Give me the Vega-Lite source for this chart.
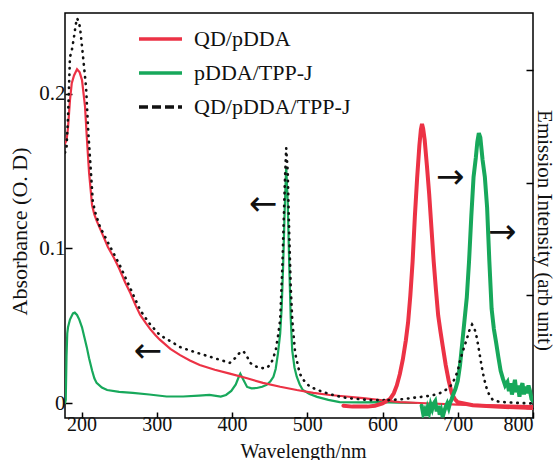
{
  "$schema": "https://vega.github.io/schema/vega-lite/v6.json",
  "width": 468,
  "height": 405,
  "autosize": {"type": "none"},
  "padding": {"left": 65, "top": 13, "right": 22, "bottom": 42},
  "background": "white",
  "config": {
    "view": {"stroke": "black", "strokeWidth": 1.5},
    "font": "Liberation Serif",
    "axis": {
      "labelFont": "Liberation Serif",
      "titleFont": "Liberation Serif",
      "labelFontSize": 21,
      "titleFontSize": 22,
      "titleFontWeight": "normal",
      "labelColor": "#111",
      "titleColor": "#111",
      "tickColor": "black",
      "tickWidth": 1.5,
      "domain": false,
      "grid": false
    },
    "legend": {
      "orient": "none",
      "legendX": 72,
      "legendY": 14,
      "symbolType": "stroke",
      "symbolSize": 1849,
      "symbolStrokeWidth": 3.5,
      "labelFont": "Liberation Serif",
      "labelFontSize": 22,
      "labelColor": "#111",
      "labelOffset": 10,
      "clipHeight": 24,
      "rowPadding": 10,
      "padding": 0
    }
  },
  "datasets": {
    "absorbance": [
      {"sample": "pDDA/TPP-J", "wavelength": 178, "od": 0.0},
      {"sample": "pDDA/TPP-J", "wavelength": 179, "od": 0.002},
      {"sample": "pDDA/TPP-J", "wavelength": 180, "od": 0.03},
      {"sample": "pDDA/TPP-J", "wavelength": 181, "od": 0.045},
      {"sample": "pDDA/TPP-J", "wavelength": 182, "od": 0.049},
      {"sample": "pDDA/TPP-J", "wavelength": 184.6, "od": 0.054},
      {"sample": "pDDA/TPP-J", "wavelength": 188.6, "od": 0.058},
      {"sample": "pDDA/TPP-J", "wavelength": 191, "od": 0.0585},
      {"sample": "pDDA/TPP-J", "wavelength": 194, "od": 0.057},
      {"sample": "pDDA/TPP-J", "wavelength": 197, "od": 0.054},
      {"sample": "pDDA/TPP-J", "wavelength": 200.6, "od": 0.049},
      {"sample": "pDDA/TPP-J", "wavelength": 204, "od": 0.042},
      {"sample": "pDDA/TPP-J", "wavelength": 207, "od": 0.036},
      {"sample": "pDDA/TPP-J", "wavelength": 210, "od": 0.029},
      {"sample": "pDDA/TPP-J", "wavelength": 214, "od": 0.021},
      {"sample": "pDDA/TPP-J", "wavelength": 217, "od": 0.016},
      {"sample": "pDDA/TPP-J", "wavelength": 220, "od": 0.013},
      {"sample": "pDDA/TPP-J", "wavelength": 227, "od": 0.010},
      {"sample": "pDDA/TPP-J", "wavelength": 234, "od": 0.0084},
      {"sample": "pDDA/TPP-J", "wavelength": 250, "od": 0.0072},
      {"sample": "pDDA/TPP-J", "wavelength": 268, "od": 0.0065},
      {"sample": "pDDA/TPP-J", "wavelength": 290, "od": 0.0055},
      {"sample": "pDDA/TPP-J", "wavelength": 313, "od": 0.0042},
      {"sample": "pDDA/TPP-J", "wavelength": 335, "od": 0.0042},
      {"sample": "pDDA/TPP-J", "wavelength": 356, "od": 0.0048},
      {"sample": "pDDA/TPP-J", "wavelength": 370, "od": 0.0052},
      {"sample": "pDDA/TPP-J", "wavelength": 385, "od": 0.0042},
      {"sample": "pDDA/TPP-J", "wavelength": 392, "od": 0.0052},
      {"sample": "pDDA/TPP-J", "wavelength": 399, "od": 0.0078},
      {"sample": "pDDA/TPP-J", "wavelength": 405, "od": 0.012},
      {"sample": "pDDA/TPP-J", "wavelength": 409, "od": 0.017},
      {"sample": "pDDA/TPP-J", "wavelength": 411, "od": 0.019},
      {"sample": "pDDA/TPP-J", "wavelength": 414, "od": 0.016},
      {"sample": "pDDA/TPP-J", "wavelength": 420, "od": 0.0104},
      {"sample": "pDDA/TPP-J", "wavelength": 426, "od": 0.0095},
      {"sample": "pDDA/TPP-J", "wavelength": 433, "od": 0.0097},
      {"sample": "pDDA/TPP-J", "wavelength": 440, "od": 0.0105},
      {"sample": "pDDA/TPP-J", "wavelength": 446, "od": 0.0117},
      {"sample": "pDDA/TPP-J", "wavelength": 451, "od": 0.014},
      {"sample": "pDDA/TPP-J", "wavelength": 455, "od": 0.017},
      {"sample": "pDDA/TPP-J", "wavelength": 458, "od": 0.022},
      {"sample": "pDDA/TPP-J", "wavelength": 461, "od": 0.032},
      {"sample": "pDDA/TPP-J", "wavelength": 464, "od": 0.045},
      {"sample": "pDDA/TPP-J", "wavelength": 466, "od": 0.062},
      {"sample": "pDDA/TPP-J", "wavelength": 468, "od": 0.09},
      {"sample": "pDDA/TPP-J", "wavelength": 470, "od": 0.125},
      {"sample": "pDDA/TPP-J", "wavelength": 472, "od": 0.153},
      {"sample": "pDDA/TPP-J", "wavelength": 474, "od": 0.13},
      {"sample": "pDDA/TPP-J", "wavelength": 476, "od": 0.09},
      {"sample": "pDDA/TPP-J", "wavelength": 478, "od": 0.055},
      {"sample": "pDDA/TPP-J", "wavelength": 480, "od": 0.034},
      {"sample": "pDDA/TPP-J", "wavelength": 483, "od": 0.023},
      {"sample": "pDDA/TPP-J", "wavelength": 486, "od": 0.017},
      {"sample": "pDDA/TPP-J", "wavelength": 490, "od": 0.012},
      {"sample": "pDDA/TPP-J", "wavelength": 494, "od": 0.0084},
      {"sample": "pDDA/TPP-J", "wavelength": 503, "od": 0.0058},
      {"sample": "pDDA/TPP-J", "wavelength": 513, "od": 0.004},
      {"sample": "pDDA/TPP-J", "wavelength": 528, "od": 0.002},
      {"sample": "pDDA/TPP-J", "wavelength": 543, "od": 0.0006},
      {"sample": "pDDA/TPP-J", "wavelength": 570, "od": 0.0004},
      {"sample": "pDDA/TPP-J", "wavelength": 597, "od": 0.0006},
      {"sample": "pDDA/TPP-J", "wavelength": 620, "od": 0.0002},
      {"sample": "pDDA/TPP-J", "wavelength": 645, "od": 0.0},
      {"sample": "QD/pDDA", "wavelength": 178, "od": 0.168},
      {"sample": "QD/pDDA", "wavelength": 180, "od": 0.17},
      {"sample": "QD/pDDA", "wavelength": 182, "od": 0.178},
      {"sample": "QD/pDDA", "wavelength": 184.6, "od": 0.196},
      {"sample": "QD/pDDA", "wavelength": 187, "od": 0.207},
      {"sample": "QD/pDDA", "wavelength": 190, "od": 0.212},
      {"sample": "QD/pDDA", "wavelength": 194, "od": 0.216},
      {"sample": "QD/pDDA", "wavelength": 197.5, "od": 0.214},
      {"sample": "QD/pDDA", "wavelength": 200.6, "od": 0.209},
      {"sample": "QD/pDDA", "wavelength": 204.6, "od": 0.192},
      {"sample": "QD/pDDA", "wavelength": 207, "od": 0.172},
      {"sample": "QD/pDDA", "wavelength": 210, "od": 0.149},
      {"sample": "QD/pDDA", "wavelength": 214, "od": 0.128},
      {"sample": "QD/pDDA", "wavelength": 217, "od": 0.122},
      {"sample": "QD/pDDA", "wavelength": 220, "od": 0.118},
      {"sample": "QD/pDDA", "wavelength": 228, "od": 0.109},
      {"sample": "QD/pDDA", "wavelength": 235, "od": 0.101},
      {"sample": "QD/pDDA", "wavelength": 243, "od": 0.094},
      {"sample": "QD/pDDA", "wavelength": 250, "od": 0.087},
      {"sample": "QD/pDDA", "wavelength": 258, "od": 0.078},
      {"sample": "QD/pDDA", "wavelength": 265, "od": 0.071},
      {"sample": "QD/pDDA", "wavelength": 272, "od": 0.063},
      {"sample": "QD/pDDA", "wavelength": 278, "od": 0.057},
      {"sample": "QD/pDDA", "wavelength": 285, "od": 0.052},
      {"sample": "QD/pDDA", "wavelength": 291, "od": 0.048},
      {"sample": "QD/pDDA", "wavelength": 298, "od": 0.044},
      {"sample": "QD/pDDA", "wavelength": 304, "od": 0.041},
      {"sample": "QD/pDDA", "wavelength": 318, "od": 0.035},
      {"sample": "QD/pDDA", "wavelength": 331, "od": 0.031},
      {"sample": "QD/pDDA", "wavelength": 344, "od": 0.0275},
      {"sample": "QD/pDDA", "wavelength": 357, "od": 0.0246},
      {"sample": "QD/pDDA", "wavelength": 377, "od": 0.0215},
      {"sample": "QD/pDDA", "wavelength": 397, "od": 0.019},
      {"sample": "QD/pDDA", "wavelength": 420, "od": 0.016},
      {"sample": "QD/pDDA", "wavelength": 441, "od": 0.013},
      {"sample": "QD/pDDA", "wavelength": 464, "od": 0.0105},
      {"sample": "QD/pDDA", "wavelength": 486, "od": 0.0084},
      {"sample": "QD/pDDA", "wavelength": 508, "od": 0.0066},
      {"sample": "QD/pDDA", "wavelength": 530, "od": 0.0052},
      {"sample": "QD/pDDA", "wavelength": 552, "od": 0.0042},
      {"sample": "QD/pDDA", "wavelength": 574, "od": 0.0032},
      {"sample": "QD/pDDA", "wavelength": 600, "od": 0.0018},
      {"sample": "QD/pDDA", "wavelength": 623, "od": 0.0006},
      {"sample": "QD/pDDA", "wavelength": 650, "od": 0.0},
      {"sample": "QD/pDDA", "wavelength": 700, "od": -0.001},
      {"sample": "QD/pDDA", "wavelength": 750, "od": -0.0015},
      {"sample": "QD/pDDA", "wavelength": 800, "od": -0.002},
      {"sample": "QD/pDDA/TPP-J", "wavelength": 178, "od": 0.162},
      {"sample": "QD/pDDA/TPP-J", "wavelength": 180, "od": 0.165},
      {"sample": "QD/pDDA/TPP-J", "wavelength": 182, "od": 0.185},
      {"sample": "QD/pDDA/TPP-J", "wavelength": 184.6, "od": 0.224},
      {"sample": "QD/pDDA/TPP-J", "wavelength": 187, "od": 0.228},
      {"sample": "QD/pDDA/TPP-J", "wavelength": 190, "od": 0.237},
      {"sample": "QD/pDDA/TPP-J", "wavelength": 192, "od": 0.244},
      {"sample": "QD/pDDA/TPP-J", "wavelength": 194, "od": 0.249},
      {"sample": "QD/pDDA/TPP-J", "wavelength": 196, "od": 0.247},
      {"sample": "QD/pDDA/TPP-J", "wavelength": 198, "od": 0.243},
      {"sample": "QD/pDDA/TPP-J", "wavelength": 202, "od": 0.224},
      {"sample": "QD/pDDA/TPP-J", "wavelength": 206, "od": 0.2045},
      {"sample": "QD/pDDA/TPP-J", "wavelength": 209, "od": 0.175},
      {"sample": "QD/pDDA/TPP-J", "wavelength": 212.5, "od": 0.149},
      {"sample": "QD/pDDA/TPP-J", "wavelength": 215, "od": 0.13},
      {"sample": "QD/pDDA/TPP-J", "wavelength": 219, "od": 0.122},
      {"sample": "QD/pDDA/TPP-J", "wavelength": 224.5, "od": 0.114},
      {"sample": "QD/pDDA/TPP-J", "wavelength": 235, "od": 0.104},
      {"sample": "QD/pDDA/TPP-J", "wavelength": 250, "od": 0.09},
      {"sample": "QD/pDDA/TPP-J", "wavelength": 265, "od": 0.074},
      {"sample": "QD/pDDA/TPP-J", "wavelength": 278, "od": 0.06},
      {"sample": "QD/pDDA/TPP-J", "wavelength": 291, "od": 0.051},
      {"sample": "QD/pDDA/TPP-J", "wavelength": 304, "od": 0.044},
      {"sample": "QD/pDDA/TPP-J", "wavelength": 318, "od": 0.04},
      {"sample": "QD/pDDA/TPP-J", "wavelength": 331, "od": 0.0362},
      {"sample": "QD/pDDA/TPP-J", "wavelength": 344, "od": 0.034},
      {"sample": "QD/pDDA/TPP-J", "wavelength": 357, "od": 0.032},
      {"sample": "QD/pDDA/TPP-J", "wavelength": 377, "od": 0.029},
      {"sample": "QD/pDDA/TPP-J", "wavelength": 397, "od": 0.026},
      {"sample": "QD/pDDA/TPP-J", "wavelength": 404, "od": 0.029},
      {"sample": "QD/pDDA/TPP-J", "wavelength": 411, "od": 0.033},
      {"sample": "QD/pDDA/TPP-J", "wavelength": 415, "od": 0.0335},
      {"sample": "QD/pDDA/TPP-J", "wavelength": 419, "od": 0.031},
      {"sample": "QD/pDDA/TPP-J", "wavelength": 424, "od": 0.026},
      {"sample": "QD/pDDA/TPP-J", "wavelength": 430, "od": 0.024},
      {"sample": "QD/pDDA/TPP-J", "wavelength": 437, "od": 0.0226},
      {"sample": "QD/pDDA/TPP-J", "wavelength": 446, "od": 0.0226},
      {"sample": "QD/pDDA/TPP-J", "wavelength": 451, "od": 0.025},
      {"sample": "QD/pDDA/TPP-J", "wavelength": 454, "od": 0.028},
      {"sample": "QD/pDDA/TPP-J", "wavelength": 458, "od": 0.034},
      {"sample": "QD/pDDA/TPP-J", "wavelength": 461, "od": 0.043},
      {"sample": "QD/pDDA/TPP-J", "wavelength": 464, "od": 0.054},
      {"sample": "QD/pDDA/TPP-J", "wavelength": 467, "od": 0.09},
      {"sample": "QD/pDDA/TPP-J", "wavelength": 470, "od": 0.14},
      {"sample": "QD/pDDA/TPP-J", "wavelength": 472, "od": 0.165},
      {"sample": "QD/pDDA/TPP-J", "wavelength": 474, "od": 0.15},
      {"sample": "QD/pDDA/TPP-J", "wavelength": 476, "od": 0.11},
      {"sample": "QD/pDDA/TPP-J", "wavelength": 478, "od": 0.075},
      {"sample": "QD/pDDA/TPP-J", "wavelength": 480, "od": 0.054},
      {"sample": "QD/pDDA/TPP-J", "wavelength": 484, "od": 0.032},
      {"sample": "QD/pDDA/TPP-J", "wavelength": 490, "od": 0.019},
      {"sample": "QD/pDDA/TPP-J", "wavelength": 497, "od": 0.0135},
      {"sample": "QD/pDDA/TPP-J", "wavelength": 504, "od": 0.0104},
      {"sample": "QD/pDDA/TPP-J", "wavelength": 521, "od": 0.0071},
      {"sample": "QD/pDDA/TPP-J", "wavelength": 537, "od": 0.0048},
      {"sample": "QD/pDDA/TPP-J", "wavelength": 553, "od": 0.0032},
      {"sample": "QD/pDDA/TPP-J", "wavelength": 583, "od": 0.0019},
      {"sample": "QD/pDDA/TPP-J", "wavelength": 608, "od": 0.0019}
    ],
    "emission": [
      {"sample": "QD/pDDA", "wavelength": 548, "intensity": 0.02},
      {"sample": "QD/pDDA", "wavelength": 560, "intensity": 0.012},
      {"sample": "QD/pDDA", "wavelength": 580, "intensity": 0.012},
      {"sample": "QD/pDDA", "wavelength": 590, "intensity": 0.02},
      {"sample": "QD/pDDA", "wavelength": 600, "intensity": 0.04},
      {"sample": "QD/pDDA", "wavelength": 610, "intensity": 0.08},
      {"sample": "QD/pDDA", "wavelength": 615, "intensity": 0.13},
      {"sample": "QD/pDDA", "wavelength": 619, "intensity": 0.2},
      {"sample": "QD/pDDA", "wavelength": 623, "intensity": 0.3},
      {"sample": "QD/pDDA", "wavelength": 627, "intensity": 0.43},
      {"sample": "QD/pDDA", "wavelength": 631, "intensity": 0.6},
      {"sample": "QD/pDDA", "wavelength": 634, "intensity": 0.76},
      {"sample": "QD/pDDA", "wavelength": 637, "intensity": 1.0},
      {"sample": "QD/pDDA", "wavelength": 640, "intensity": 1.3},
      {"sample": "QD/pDDA", "wavelength": 643, "intensity": 1.7},
      {"sample": "QD/pDDA", "wavelength": 646, "intensity": 2.04},
      {"sample": "QD/pDDA", "wavelength": 649, "intensity": 2.33},
      {"sample": "QD/pDDA", "wavelength": 651, "intensity": 2.47},
      {"sample": "QD/pDDA", "wavelength": 652.5, "intensity": 2.52},
      {"sample": "QD/pDDA", "wavelength": 654, "intensity": 2.48},
      {"sample": "QD/pDDA", "wavelength": 656, "intensity": 2.38},
      {"sample": "QD/pDDA", "wavelength": 659, "intensity": 2.15},
      {"sample": "QD/pDDA", "wavelength": 662, "intensity": 1.9},
      {"sample": "QD/pDDA", "wavelength": 665, "intensity": 1.6},
      {"sample": "QD/pDDA", "wavelength": 668, "intensity": 1.3},
      {"sample": "QD/pDDA", "wavelength": 671, "intensity": 1.05},
      {"sample": "QD/pDDA", "wavelength": 674, "intensity": 0.82},
      {"sample": "QD/pDDA", "wavelength": 677, "intensity": 0.68},
      {"sample": "QD/pDDA", "wavelength": 680, "intensity": 0.55},
      {"sample": "QD/pDDA", "wavelength": 684, "intensity": 0.38},
      {"sample": "QD/pDDA", "wavelength": 688, "intensity": 0.24},
      {"sample": "QD/pDDA", "wavelength": 692, "intensity": 0.13},
      {"sample": "QD/pDDA", "wavelength": 696, "intensity": 0.08},
      {"sample": "QD/pDDA", "wavelength": 700, "intensity": 0.05},
      {"sample": "QD/pDDA", "wavelength": 720, "intensity": 0.025},
      {"sample": "QD/pDDA", "wavelength": 750, "intensity": 0.012},
      {"sample": "QD/pDDA", "wavelength": 800, "intensity": 0.0},
      {"sample": "pDDA/TPP-J", "wavelength": 652, "intensity": 0.02},
      {"sample": "pDDA/TPP-J", "wavelength": 654, "intensity": -0.05},
      {"sample": "pDDA/TPP-J", "wavelength": 656, "intensity": -0.02},
      {"sample": "pDDA/TPP-J", "wavelength": 658, "intensity": -0.07},
      {"sample": "pDDA/TPP-J", "wavelength": 660, "intensity": 0.0},
      {"sample": "pDDA/TPP-J", "wavelength": 662, "intensity": -0.04},
      {"sample": "pDDA/TPP-J", "wavelength": 664, "intensity": 0.03},
      {"sample": "pDDA/TPP-J", "wavelength": 666, "intensity": -0.01},
      {"sample": "pDDA/TPP-J", "wavelength": 668, "intensity": 0.04},
      {"sample": "pDDA/TPP-J", "wavelength": 670, "intensity": 0.06},
      {"sample": "pDDA/TPP-J", "wavelength": 672, "intensity": -0.03},
      {"sample": "pDDA/TPP-J", "wavelength": 674, "intensity": 0.02},
      {"sample": "pDDA/TPP-J", "wavelength": 676, "intensity": -0.06},
      {"sample": "pDDA/TPP-J", "wavelength": 678, "intensity": -0.02},
      {"sample": "pDDA/TPP-J", "wavelength": 680, "intensity": -0.08},
      {"sample": "pDDA/TPP-J", "wavelength": 682, "intensity": -0.03},
      {"sample": "pDDA/TPP-J", "wavelength": 684, "intensity": 0.01},
      {"sample": "pDDA/TPP-J", "wavelength": 686, "intensity": 0.04},
      {"sample": "pDDA/TPP-J", "wavelength": 688, "intensity": 0.0},
      {"sample": "pDDA/TPP-J", "wavelength": 690, "intensity": 0.05},
      {"sample": "pDDA/TPP-J", "wavelength": 692, "intensity": 0.08},
      {"sample": "pDDA/TPP-J", "wavelength": 694, "intensity": 0.12},
      {"sample": "pDDA/TPP-J", "wavelength": 697, "intensity": 0.17},
      {"sample": "pDDA/TPP-J", "wavelength": 700, "intensity": 0.24},
      {"sample": "pDDA/TPP-J", "wavelength": 703, "intensity": 0.38},
      {"sample": "pDDA/TPP-J", "wavelength": 706, "intensity": 0.58},
      {"sample": "pDDA/TPP-J", "wavelength": 709, "intensity": 0.78},
      {"sample": "pDDA/TPP-J", "wavelength": 712, "intensity": 0.98},
      {"sample": "pDDA/TPP-J", "wavelength": 715, "intensity": 1.3},
      {"sample": "pDDA/TPP-J", "wavelength": 718, "intensity": 1.7},
      {"sample": "pDDA/TPP-J", "wavelength": 721, "intensity": 2.05},
      {"sample": "pDDA/TPP-J", "wavelength": 724, "intensity": 2.22},
      {"sample": "pDDA/TPP-J", "wavelength": 726, "intensity": 2.36},
      {"sample": "pDDA/TPP-J", "wavelength": 728, "intensity": 2.44},
      {"sample": "pDDA/TPP-J", "wavelength": 730, "intensity": 2.4},
      {"sample": "pDDA/TPP-J", "wavelength": 733, "intensity": 2.2},
      {"sample": "pDDA/TPP-J", "wavelength": 736, "intensity": 2.05},
      {"sample": "pDDA/TPP-J", "wavelength": 739, "intensity": 1.78},
      {"sample": "pDDA/TPP-J", "wavelength": 742, "intensity": 1.3},
      {"sample": "pDDA/TPP-J", "wavelength": 745, "intensity": 0.88},
      {"sample": "pDDA/TPP-J", "wavelength": 748, "intensity": 0.7},
      {"sample": "pDDA/TPP-J", "wavelength": 751, "intensity": 0.58},
      {"sample": "pDDA/TPP-J", "wavelength": 754, "intensity": 0.45},
      {"sample": "pDDA/TPP-J", "wavelength": 757, "intensity": 0.33},
      {"sample": "pDDA/TPP-J", "wavelength": 760, "intensity": 0.26},
      {"sample": "pDDA/TPP-J", "wavelength": 763, "intensity": 0.2},
      {"sample": "pDDA/TPP-J", "wavelength": 766, "intensity": 0.23},
      {"sample": "pDDA/TPP-J", "wavelength": 768, "intensity": 0.15},
      {"sample": "pDDA/TPP-J", "wavelength": 770, "intensity": 0.22},
      {"sample": "pDDA/TPP-J", "wavelength": 772, "intensity": 0.12},
      {"sample": "pDDA/TPP-J", "wavelength": 774, "intensity": 0.18},
      {"sample": "pDDA/TPP-J", "wavelength": 776, "intensity": 0.25},
      {"sample": "pDDA/TPP-J", "wavelength": 778, "intensity": 0.14},
      {"sample": "pDDA/TPP-J", "wavelength": 780, "intensity": 0.2},
      {"sample": "pDDA/TPP-J", "wavelength": 782, "intensity": 0.1},
      {"sample": "pDDA/TPP-J", "wavelength": 784, "intensity": 0.18},
      {"sample": "pDDA/TPP-J", "wavelength": 786, "intensity": 0.22},
      {"sample": "pDDA/TPP-J", "wavelength": 788, "intensity": 0.12},
      {"sample": "pDDA/TPP-J", "wavelength": 790, "intensity": 0.19},
      {"sample": "pDDA/TPP-J", "wavelength": 792, "intensity": 0.13},
      {"sample": "pDDA/TPP-J", "wavelength": 794, "intensity": 0.2},
      {"sample": "pDDA/TPP-J", "wavelength": 796, "intensity": 0.15},
      {"sample": "pDDA/TPP-J", "wavelength": 798, "intensity": 0.08},
      {"sample": "pDDA/TPP-J", "wavelength": 800, "intensity": 0.06},
      {"sample": "QD/pDDA/TPP-J", "wavelength": 608, "intensity": 0.07},
      {"sample": "QD/pDDA/TPP-J", "wavelength": 620, "intensity": 0.075},
      {"sample": "QD/pDDA/TPP-J", "wavelength": 630, "intensity": 0.08},
      {"sample": "QD/pDDA/TPP-J", "wavelength": 640, "intensity": 0.09},
      {"sample": "QD/pDDA/TPP-J", "wavelength": 654, "intensity": 0.1},
      {"sample": "QD/pDDA/TPP-J", "wavelength": 665, "intensity": 0.11},
      {"sample": "QD/pDDA/TPP-J", "wavelength": 676, "intensity": 0.13},
      {"sample": "QD/pDDA/TPP-J", "wavelength": 684, "intensity": 0.16},
      {"sample": "QD/pDDA/TPP-J", "wavelength": 690, "intensity": 0.19},
      {"sample": "QD/pDDA/TPP-J", "wavelength": 696, "intensity": 0.26},
      {"sample": "QD/pDDA/TPP-J", "wavelength": 700, "intensity": 0.33},
      {"sample": "QD/pDDA/TPP-J", "wavelength": 703, "intensity": 0.42},
      {"sample": "QD/pDDA/TPP-J", "wavelength": 708, "intensity": 0.53},
      {"sample": "QD/pDDA/TPP-J", "wavelength": 712, "intensity": 0.61},
      {"sample": "QD/pDDA/TPP-J", "wavelength": 716, "intensity": 0.7},
      {"sample": "QD/pDDA/TPP-J", "wavelength": 719, "intensity": 0.74},
      {"sample": "QD/pDDA/TPP-J", "wavelength": 722, "intensity": 0.71},
      {"sample": "QD/pDDA/TPP-J", "wavelength": 725.5, "intensity": 0.62},
      {"sample": "QD/pDDA/TPP-J", "wavelength": 729, "intensity": 0.48},
      {"sample": "QD/pDDA/TPP-J", "wavelength": 732, "intensity": 0.36},
      {"sample": "QD/pDDA/TPP-J", "wavelength": 735, "intensity": 0.26},
      {"sample": "QD/pDDA/TPP-J", "wavelength": 739, "intensity": 0.16},
      {"sample": "QD/pDDA/TPP-J", "wavelength": 743, "intensity": 0.1},
      {"sample": "QD/pDDA/TPP-J", "wavelength": 747, "intensity": 0.07},
      {"sample": "QD/pDDA/TPP-J", "wavelength": 755, "intensity": 0.055},
      {"sample": "QD/pDDA/TPP-J", "wavelength": 765, "intensity": 0.05},
      {"sample": "QD/pDDA/TPP-J", "wavelength": 780, "intensity": 0.045},
      {"sample": "QD/pDDA/TPP-J", "wavelength": 800, "intensity": 0.04}
    ],
    "arrows": [
      {"glyph": "←", "wavelength": 288, "od": 0.033},
      {"glyph": "←", "wavelength": 441, "od": 0.128},
      {"glyph": "→", "wavelength": 690, "od": 0.1456},
      {"glyph": "→", "wavelength": 759, "od": 0.110}
    ]
  },
  "layer": [
    {
      "layer": [
        {
          "data": {"name": "absorbance"},
          "transform": [{"filter": "datum.sample !== 'QD/pDDA/TPP-J'"}],
          "mark": {"type": "line", "strokeWidth": 2.2, "strokeCap": "round", "clip": true},
          "encoding": {
            "x": {
              "field": "wavelength", "type": "quantitative",
              "scale": {"domain": [178, 800], "nice": false, "zero": false},
              "axis": {
                "values": [200, 300, 400, 500, 600, 700, 800],
                "title": "Wavelength/nm",
                "labelFontSize": 20,
                "tickSize": -6,
                "labelPadding": 2,
                "titleFontSize": 20,
                "titleX": 238, "titleY": 39, "titleBaseline": "alphabetic", "titleAlign": "center"
              }
            },
            "y": {
              "field": "od", "type": "quantitative",
              "scale": {"domain": [-0.0097, 0.2524], "nice": false, "zero": false},
              "axis": {
                "orient": "left",
                "values": [0, 0.1, 0.2],
                "labelExpr": "datum.value == 0 ? '0' : format(datum.value, '.1f')",
                "title": "Absorbance  (O. D)",
                "tickSize": -7,
                "labelPadding": 7,
                "titleAngle": -90,
                "titleX": -39, "titleY": 218, "titleBaseline": "alphabetic", "titleAlign": "center"
              }
            },
            "color": {
              "field": "sample", "type": "nominal",
              "scale": {"domain": ["QD/pDDA", "pDDA/TPP-J", "QD/pDDA/TPP-J"], "range": ["#ec3245", "#17a85b", "#111111"]},
              "legend": {
                "title": null,
                "encode": {"symbols": {"update": {"strokeDash": {"signal": "datum.value === 'QD/pDDA/TPP-J' ? [9, 4] : [1, 0]"}}}}
              }
            }
          }
        },
        {
          "data": {"name": "absorbance"},
          "transform": [{"filter": "datum.sample === 'QD/pDDA/TPP-J'"}],
          "mark": {"type": "line", "strokeWidth": 2.6, "strokeCap": "round", "strokeDash": [0.5, 6], "color": "#111111", "clip": true},
          "encoding": {
            "x": {"field": "wavelength", "type": "quantitative"},
            "y": {"field": "od", "type": "quantitative"}
          }
        },
        {
          "data": {"name": "arrows"},
          "mark": {"type": "text", "font": "DejaVu Sans", "fontSize": 34, "align": "center", "baseline": "middle", "color": "#111"},
          "encoding": {
            "x": {"field": "wavelength", "type": "quantitative"},
            "y": {"field": "od", "type": "quantitative"},
            "text": {"field": "glyph"}
          }
        }
      ]
    },
    {
      "layer": [
        {
          "data": {"name": "emission"},
          "transform": [{"filter": "datum.sample !== 'QD/pDDA/TPP-J'"}],
          "mark": {"type": "line", "strokeWidth": 4, "strokeCap": "round", "clip": true},
          "encoding": {
            "x": {"field": "wavelength", "type": "quantitative"},
            "y": {
              "field": "intensity", "type": "quantitative",
              "scale": {"domain": [-0.089, 3.505], "nice": false, "zero": false},
              "axis": {
                "orient": "right",
                "values": [0, 1, 2, 3],
                "labels": false,
                "tickSize": -7,
                "title": "Emission Intensity (arb unit)",
                "titleFontSize": 21,
                "titleAngle": 90,
                "titleX": 4, "titleY": 217, "titleBaseline": "alphabetic", "titleAlign": "center"
              }
            },
            "color": {"field": "sample", "type": "nominal"}
          }
        },
        {
          "data": {"name": "emission"},
          "transform": [{"filter": "datum.sample === 'QD/pDDA/TPP-J'"}],
          "mark": {"type": "line", "strokeWidth": 2.6, "strokeCap": "round", "strokeDash": [0.5, 6], "color": "#111111", "clip": true},
          "encoding": {
            "x": {"field": "wavelength", "type": "quantitative"},
            "y": {"field": "intensity", "type": "quantitative"}
          }
        }
      ]
    }
  ],
  "resolve": {"scale": {"y": "independent"}}
}
